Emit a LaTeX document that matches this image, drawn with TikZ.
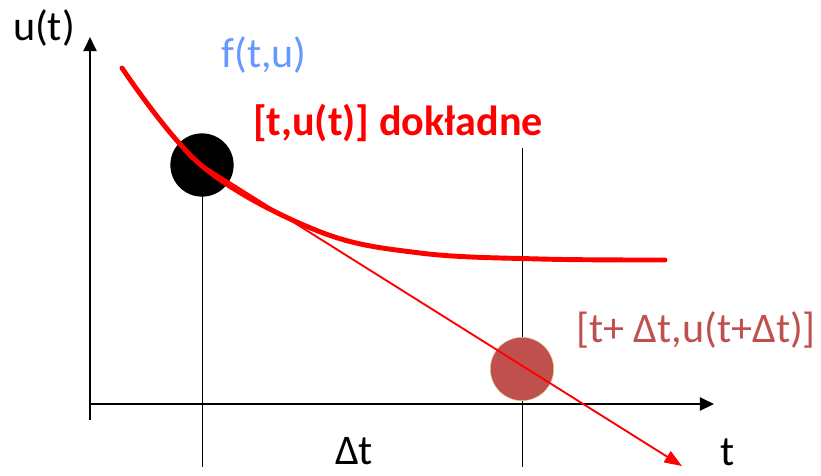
\documentclass[tikz,border=0pt]{standalone}
\usepackage{fontspec}
\setmainfont{Carlito}
\usetikzlibrary{arrows.meta}
\definecolor{fblue}{RGB}{102, 153, 255}
\definecolor{ptbrown}{RGB}{192, 80, 77}
\definecolor{exred}{RGB}{255, 0, 0}

\begin{document}
\begin{tikzpicture}[x=0.03cm, y=-0.03cm,
  axis/.style={line width=2.4pt, -{Triangle[length=12pt, width=11pt]}},
  guide/.style={line width=0.8pt},
  dot/.style={circle, minimum size=54pt, inner sep=0pt},
  lbl/.style={font=\fontsize{36}{42}\selectfont, inner sep=0pt}
]
  \useasboundingbox (0,0) rectangle (821,475);

  % axes
  \coordinate (o) at (90,404);
  \coordinate (ytop) at (90,37);
  \coordinate (ybot) at (90,420);
  \coordinate (xend) at (714,404);
  \draw[axis] (ybot) -- (ytop);
  \draw[axis] (o) -- (xend);

  % points
  \node[dot, fill=black] (p0) at (202,165) {};
  \node[dot, fill=ptbrown, draw=olive!40, line width=0.4pt] (p1) at (522,369) {};

  % guides
  \draw[guide] (p0.center) -- (202,467);
  \draw[guide] (522,148) -- (p1.north);
  \draw[guide] (p1.south) -- (522,467);

  % exact solution
  \draw[exred, line width=4.2pt, line cap=round] plot[smooth, tension=0.6] coordinates
    {(122,68) (202,166) (318,231) (420,253) (540,259) (665,260)};

  % tangent step
  \coordinate (tend) at (682,466);
  \draw[exred, line width=1.6pt, -{Triangle[length=15pt, width=11pt]}] (188,156) -- (tend);

  % labels
  \node[lbl] (ut) at (44,28) {u(t)};
  \node[lbl, text=fblue] (ftu) at (264,55) {f(t,u)};
  \node[lbl, text=exred, font=\fontsize{36}{42}\selectfont\bfseries] (exact) at (398,123) {[t,u(t)] dokładne};
  \node[lbl, text=ptbrown] (next) at (696,330) {[t+ Δt,u(t+Δt)]};
  \node[lbl] (dt) at (354,451) {Δt};
  \node[lbl] (tl) at (728,452) {t};
\end{tikzpicture}
\end{document}
